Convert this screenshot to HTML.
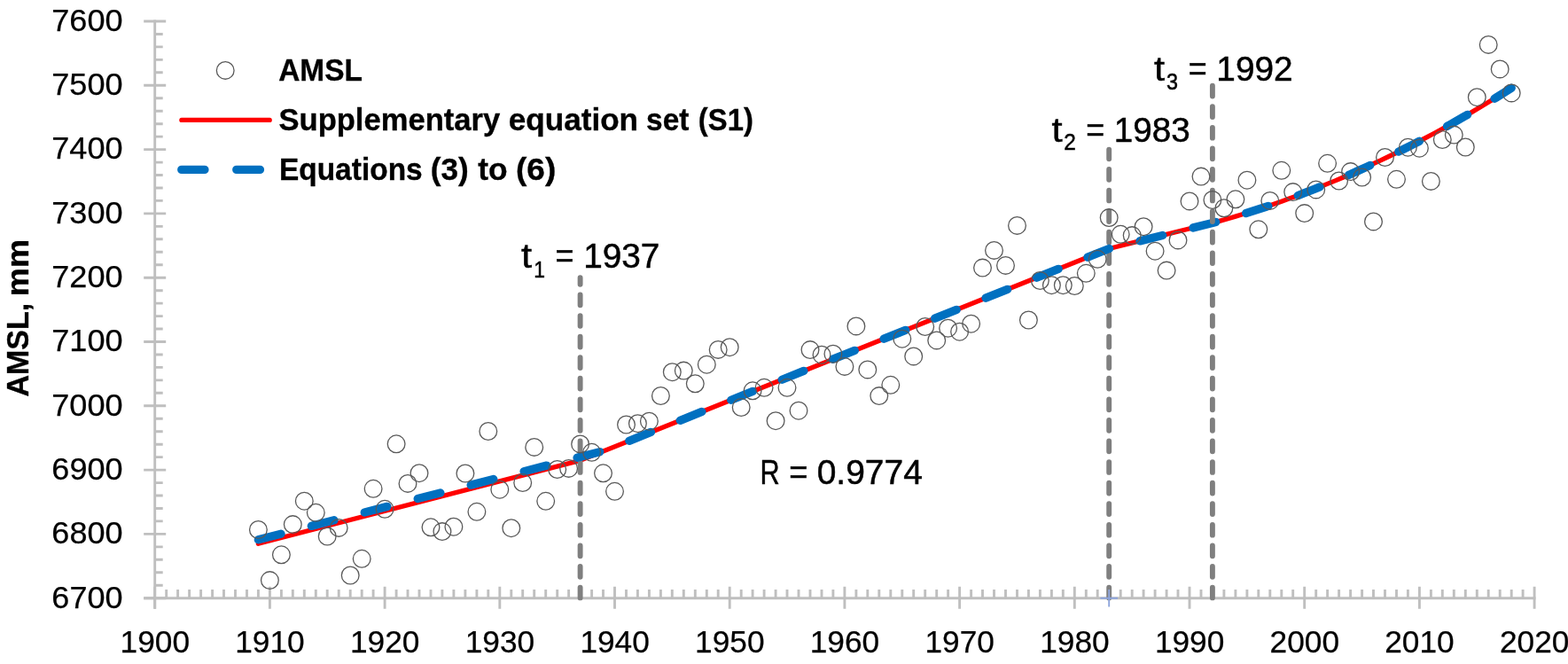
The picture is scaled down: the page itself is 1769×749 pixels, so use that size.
<!DOCTYPE html>
<html lang="en">
<head>
<meta charset="utf-8">
<title>AMSL chart</title>
<style>
html,body{margin:0;padding:0;background:#fff;}
body{width:1769px;height:749px;overflow:hidden;}
svg{display:block;}
text{font-family:"Liberation Sans", sans-serif;fill:#000;}
.ax{font-size:35.5px;stroke:#000;stroke-width:0.25px;}
.an{font-size:39.2px;stroke:#000;stroke-width:0.5px;}
.sub{font-size:25.9px;stroke:#000;stroke-width:0.5px;}
.b{font-weight:bold;font-size:35.8px;stroke:#000;stroke-width:0.35px;}
</style>
</head>
<body>
<svg width="1769" height="749" viewBox="0 0 1769 749">
<rect x="0" y="0" width="1769" height="749" fill="#ffffff"/>

<g stroke="#bfbfbf" stroke-width="2.9" fill="none" stroke-linecap="butt">
<path d="M174.7 22.6V686.7"/>
<path d="M162.2 674.7H1732.5"/>
<path d="M162.2 674.7H187.2M174.7 660.2H183.7M174.7 645.8H183.7M174.7 631.3H183.7M174.7 616.9H183.7M162.2 602.4H187.2M174.7 587.9H183.7M174.7 573.5H183.7M174.7 559.0H183.7M174.7 544.6H183.7M162.2 530.1H187.2M174.7 515.6H183.7M174.7 501.2H183.7M174.7 486.7H183.7M174.7 472.3H183.7M162.2 457.8H187.2M174.7 443.3H183.7M174.7 428.9H183.7M174.7 414.4H183.7M174.7 400.0H183.7M162.2 385.5H187.2M174.7 371.0H183.7M174.7 356.6H183.7M174.7 342.1H183.7M174.7 327.7H183.7M162.2 313.2H187.2M174.7 298.7H183.7M174.7 284.3H183.7M174.7 269.8H183.7M174.7 255.4H183.7M162.2 240.9H187.2M174.7 226.4H183.7M174.7 212.0H183.7M174.7 197.5H183.7M174.7 183.1H183.7M162.2 168.6H187.2M174.7 154.1H183.7M174.7 139.7H183.7M174.7 125.2H183.7M174.7 110.8H183.7M162.2 96.3H187.2M174.7 81.8H183.7M174.7 67.4H183.7M174.7 52.9H183.7M174.7 38.5H183.7M162.2 24.0H187.2"/>
<path d="M174.7 661.7V686.8M187.7 665.0V674.7M200.6 665.0V674.7M213.6 665.0V674.7M226.6 665.0V674.7M239.6 665.0V674.7M252.5 665.0V674.7M265.5 665.0V674.7M278.5 665.0V674.7M291.4 665.0V674.7M304.4 661.7V686.8M317.4 665.0V674.7M330.3 665.0V674.7M343.3 665.0V674.7M356.3 665.0V674.7M369.2 665.0V674.7M382.2 665.0V674.7M395.2 665.0V674.7M408.2 665.0V674.7M421.1 665.0V674.7M434.1 661.7V686.8M447.1 665.0V674.7M460.0 665.0V674.7M473.0 665.0V674.7M486.0 665.0V674.7M498.9 665.0V674.7M511.9 665.0V674.7M524.9 665.0V674.7M537.9 665.0V674.7M550.8 665.0V674.7M563.8 661.7V686.8M576.8 665.0V674.7M589.7 665.0V674.7M602.7 665.0V674.7M615.7 665.0V674.7M628.7 665.0V674.7M641.6 665.0V674.7M654.6 665.0V674.7M667.6 665.0V674.7M680.5 665.0V674.7M693.5 661.7V686.8M706.5 665.0V674.7M719.4 665.0V674.7M732.4 665.0V674.7M745.4 665.0V674.7M758.3 665.0V674.7M771.3 665.0V674.7M784.3 665.0V674.7M797.3 665.0V674.7M810.2 665.0V674.7M823.2 661.7V686.8M836.2 665.0V674.7M849.1 665.0V674.7M862.1 665.0V674.7M875.1 665.0V674.7M888.0 665.0V674.7M901.0 665.0V674.7M914.0 665.0V674.7M927.0 665.0V674.7M939.9 665.0V674.7M952.9 661.7V686.8M965.9 665.0V674.7M978.8 665.0V674.7M991.8 665.0V674.7M1004.8 665.0V674.7M1017.8 665.0V674.7M1030.7 665.0V674.7M1043.7 665.0V674.7M1056.7 665.0V674.7M1069.6 665.0V674.7M1082.6 661.7V686.8M1095.6 665.0V674.7M1108.5 665.0V674.7M1121.5 665.0V674.7M1134.5 665.0V674.7M1147.5 665.0V674.7M1160.4 665.0V674.7M1173.4 665.0V674.7M1186.4 665.0V674.7M1199.3 665.0V674.7M1212.3 661.7V686.8M1225.3 665.0V674.7M1238.2 665.0V674.7M1251.2 665.0V674.7M1264.2 665.0V674.7M1277.2 665.0V674.7M1290.1 665.0V674.7M1303.1 665.0V674.7M1316.1 665.0V674.7M1329.0 665.0V674.7M1342.0 661.7V686.8M1355.0 665.0V674.7M1367.9 665.0V674.7M1380.9 665.0V674.7M1393.9 665.0V674.7M1406.9 665.0V674.7M1419.8 665.0V674.7M1432.8 665.0V674.7M1445.8 665.0V674.7M1458.7 665.0V674.7M1471.7 661.7V686.8M1484.7 665.0V674.7M1497.6 665.0V674.7M1510.6 665.0V674.7M1523.6 665.0V674.7M1536.6 665.0V674.7M1549.5 665.0V674.7M1562.5 665.0V674.7M1575.5 665.0V674.7M1588.4 665.0V674.7M1601.4 661.7V686.8M1614.4 665.0V674.7M1627.3 665.0V674.7M1640.3 665.0V674.7M1653.3 665.0V674.7M1666.3 665.0V674.7M1679.2 665.0V674.7M1692.2 665.0V674.7M1705.2 665.0V674.7M1718.1 665.0V674.7M1731.1 661.7V686.8"/>
</g>
<text class="ax" x="58.35" y="685.55" textLength="80.23" lengthAdjust="spacingAndGlyphs">6700</text>
<text class="ax" x="58.35" y="613.25" textLength="80.23" lengthAdjust="spacingAndGlyphs">6800</text>
<text class="ax" x="58.35" y="540.95" textLength="80.23" lengthAdjust="spacingAndGlyphs">6900</text>
<text class="ax" x="58.25" y="468.65" textLength="80.33" lengthAdjust="spacingAndGlyphs">7000</text>
<text class="ax" x="58.25" y="396.35" textLength="80.33" lengthAdjust="spacingAndGlyphs">7100</text>
<text class="ax" x="58.25" y="324.05" textLength="80.33" lengthAdjust="spacingAndGlyphs">7200</text>
<text class="ax" x="58.25" y="251.75" textLength="80.33" lengthAdjust="spacingAndGlyphs">7300</text>
<text class="ax" x="58.25" y="179.45" textLength="80.33" lengthAdjust="spacingAndGlyphs">7400</text>
<text class="ax" x="58.25" y="107.15" textLength="80.33" lengthAdjust="spacingAndGlyphs">7500</text>
<text class="ax" x="58.25" y="34.85" textLength="80.33" lengthAdjust="spacingAndGlyphs">7600</text>
<text class="ax" x="135.58" y="736.40" textLength="78.44" lengthAdjust="spacingAndGlyphs">1900</text>
<text class="ax" x="265.28" y="736.40" textLength="78.44" lengthAdjust="spacingAndGlyphs">1910</text>
<text class="ax" x="394.98" y="736.40" textLength="78.44" lengthAdjust="spacingAndGlyphs">1920</text>
<text class="ax" x="524.68" y="736.40" textLength="78.44" lengthAdjust="spacingAndGlyphs">1930</text>
<text class="ax" x="654.38" y="736.40" textLength="78.44" lengthAdjust="spacingAndGlyphs">1940</text>
<text class="ax" x="784.08" y="736.40" textLength="78.44" lengthAdjust="spacingAndGlyphs">1950</text>
<text class="ax" x="913.78" y="736.40" textLength="78.44" lengthAdjust="spacingAndGlyphs">1960</text>
<text class="ax" x="1043.48" y="736.40" textLength="78.44" lengthAdjust="spacingAndGlyphs">1970</text>
<text class="ax" x="1173.18" y="736.40" textLength="78.44" lengthAdjust="spacingAndGlyphs">1980</text>
<text class="ax" x="1302.88" y="736.40" textLength="78.44" lengthAdjust="spacingAndGlyphs">1990</text>
<text class="ax" x="1432.58" y="736.40" textLength="78.43" lengthAdjust="spacingAndGlyphs">2000</text>
<text class="ax" x="1562.28" y="736.40" textLength="78.43" lengthAdjust="spacingAndGlyphs">2010</text>
<text class="ax" x="1691.98" y="736.40" textLength="78.43" lengthAdjust="spacingAndGlyphs">2020</text>
<g transform="translate(32.2 0) rotate(-90)">
<text class="b" x="-447.57" y="0.00" textLength="105.72" lengthAdjust="spacingAndGlyphs">AMSL,</text>
<text class="b" x="-334.28" y="0.00" textLength="64.30" lengthAdjust="spacingAndGlyphs">mm</text>
</g>
<path d="M291.4 613.3L654.6 519.4L1251.2 280.5L1367.9 251.5L1376.6 249.1 L1385.2 246.7 L1393.9 244.1 L1402.5 241.5 L1411.2 238.8 L1419.8 236.0 L1428.5 233.2 L1437.1 230.3 L1445.8 227.2 L1454.4 224.1 L1463.1 221.0 L1471.7 217.7 L1480.3 214.4 L1489.0 210.9 L1497.6 207.4 L1506.3 203.9 L1514.9 200.2 L1523.6 196.5 L1532.2 192.6 L1540.9 188.7 L1549.5 184.7 L1558.2 180.7 L1566.8 176.5 L1575.5 172.3 L1584.1 168.0 L1592.8 163.6 L1601.4 159.2 L1610.0 154.6 L1618.7 150.0 L1627.3 145.3 L1636.0 140.5 L1644.6 135.6 L1653.3 130.7 L1661.9 125.6 L1670.6 120.5 L1679.2 115.3 L1687.9 110.1 L1696.5 104.7 L1705.2 99.3" fill="none" stroke="#ff0000" stroke-width="5.3" stroke-linejoin="round" stroke-linecap="round"/>
<path d="M654.6 674.4V313.2" fill="none" stroke="#7f7f7f" stroke-width="5.9" stroke-linecap="round" stroke-dasharray="11.78 11.8"/>
<path d="M1251.2 674.4V168.6" fill="none" stroke="#7f7f7f" stroke-width="5.9" stroke-linecap="round" stroke-dasharray="11.78 11.8"/>
<path d="M291.4 608.8L654.6 515.4L683.1 508.0L1251.2 280.5L1367.9 251.5L1376.6 249.1 L1385.2 246.7 L1393.9 244.1 L1402.5 241.5 L1411.2 238.8 L1419.8 236.0 L1428.5 233.2 L1437.1 230.3 L1445.8 227.2 L1454.4 224.1 L1463.1 221.0 L1471.7 217.7 L1480.3 214.4 L1489.0 210.9 L1497.6 207.4 L1506.3 203.9 L1514.9 200.2 L1523.6 196.5 L1532.2 192.6 L1540.9 188.7 L1549.5 184.7 L1558.2 180.7 L1566.8 176.5 L1575.5 172.3 L1584.1 168.0 L1592.8 163.6 L1601.4 159.2 L1610.0 154.6 L1618.7 150.0 L1627.3 145.3 L1636.0 140.5 L1644.6 135.6 L1653.3 130.7 L1661.9 125.6 L1670.6 120.5 L1679.2 115.3 L1687.9 110.1 L1696.5 104.7 L1705.2 99.3" fill="none" stroke="#0070c0" stroke-width="9.4" stroke-linejoin="round" stroke-linecap="round" stroke-dasharray="26.4 35.5"/>
<path d="M1367.9 674.4V96.3" fill="none" stroke="#7f7f7f" stroke-width="5.9" stroke-linecap="round" stroke-dasharray="11.78 11.8"/>
<path d="M1241.4 674.7H1261.0M1251.2 665.0V684.4" fill="none" stroke="#8ea5dc" stroke-width="1.9"/>
<g fill="none" stroke="#595959" stroke-width="1.3">
<circle cx="291.4" cy="597.5" r="9.85"/>
<circle cx="304.4" cy="654.6" r="9.85"/>
<circle cx="317.4" cy="625.8" r="9.85"/>
<circle cx="330.3" cy="591.6" r="9.85"/>
<circle cx="343.3" cy="565.2" r="9.85"/>
<circle cx="356.3" cy="578.3" r="9.85"/>
<circle cx="369.2" cy="605.0" r="9.85"/>
<circle cx="382.2" cy="595.4" r="9.85"/>
<circle cx="395.2" cy="649.0" r="9.85"/>
<circle cx="408.2" cy="630.3" r="9.85"/>
<circle cx="421.1" cy="551.3" r="9.85"/>
<circle cx="434.1" cy="574.3" r="9.85"/>
<circle cx="447.1" cy="500.8" r="9.85"/>
<circle cx="460.0" cy="545.4" r="9.85"/>
<circle cx="473.0" cy="533.7" r="9.85"/>
<circle cx="486.0" cy="594.8" r="9.85"/>
<circle cx="498.9" cy="599.6" r="9.85"/>
<circle cx="511.9" cy="594.2" r="9.85"/>
<circle cx="524.9" cy="534.0" r="9.85"/>
<circle cx="537.9" cy="577.3" r="9.85"/>
<circle cx="550.8" cy="486.5" r="9.85"/>
<circle cx="563.8" cy="552.2" r="9.85"/>
<circle cx="576.8" cy="595.7" r="9.85"/>
<circle cx="589.7" cy="544.5" r="9.85"/>
<circle cx="602.7" cy="504.4" r="9.85"/>
<circle cx="615.7" cy="565.3" r="9.85"/>
<circle cx="628.7" cy="529.5" r="9.85"/>
<circle cx="641.6" cy="528.4" r="9.85"/>
<circle cx="654.6" cy="500.9" r="9.85"/>
<circle cx="667.6" cy="510.3" r="9.85"/>
<circle cx="680.5" cy="533.8" r="9.85"/>
<circle cx="693.5" cy="554.3" r="9.85"/>
<circle cx="706.5" cy="479.0" r="9.85"/>
<circle cx="719.4" cy="477.7" r="9.85"/>
<circle cx="732.4" cy="475.2" r="9.85"/>
<circle cx="745.4" cy="446.5" r="9.85"/>
<circle cx="758.3" cy="419.7" r="9.85"/>
<circle cx="771.3" cy="418.1" r="9.85"/>
<circle cx="784.3" cy="432.8" r="9.85"/>
<circle cx="797.3" cy="411.2" r="9.85"/>
<circle cx="810.2" cy="394.4" r="9.85"/>
<circle cx="823.2" cy="391.7" r="9.85"/>
<circle cx="836.2" cy="459.5" r="9.85"/>
<circle cx="849.1" cy="440.8" r="9.85"/>
<circle cx="862.1" cy="437.3" r="9.85"/>
<circle cx="875.1" cy="474.7" r="9.85"/>
<circle cx="888.0" cy="437.3" r="9.85"/>
<circle cx="901.0" cy="463.2" r="9.85"/>
<circle cx="914.0" cy="394.6" r="9.85"/>
<circle cx="927.0" cy="400.2" r="9.85"/>
<circle cx="939.9" cy="399.2" r="9.85"/>
<circle cx="952.9" cy="413.4" r="9.85"/>
<circle cx="965.9" cy="367.9" r="9.85"/>
<circle cx="978.8" cy="416.9" r="9.85"/>
<circle cx="991.8" cy="446.6" r="9.85"/>
<circle cx="1004.8" cy="434.3" r="9.85"/>
<circle cx="1017.8" cy="382.2" r="9.85"/>
<circle cx="1030.7" cy="401.9" r="9.85"/>
<circle cx="1043.7" cy="368.5" r="9.85"/>
<circle cx="1056.7" cy="383.9" r="9.85"/>
<circle cx="1069.6" cy="370.2" r="9.85"/>
<circle cx="1082.6" cy="374.2" r="9.85"/>
<circle cx="1095.6" cy="365.2" r="9.85"/>
<circle cx="1108.5" cy="302.1" r="9.85"/>
<circle cx="1121.5" cy="282.4" r="9.85"/>
<circle cx="1134.5" cy="299.4" r="9.85"/>
<circle cx="1147.5" cy="254.4" r="9.85"/>
<circle cx="1160.4" cy="361.0" r="9.85"/>
<circle cx="1173.4" cy="316.5" r="9.85"/>
<circle cx="1186.4" cy="321.7" r="9.85"/>
<circle cx="1199.3" cy="321.7" r="9.85"/>
<circle cx="1212.3" cy="322.5" r="9.85"/>
<circle cx="1225.3" cy="308.3" r="9.85"/>
<circle cx="1238.2" cy="292.3" r="9.85"/>
<circle cx="1251.2" cy="245.6" r="9.85"/>
<circle cx="1264.2" cy="264.3" r="9.85"/>
<circle cx="1277.2" cy="265.6" r="9.85"/>
<circle cx="1290.1" cy="255.7" r="9.85"/>
<circle cx="1303.1" cy="283.2" r="9.85"/>
<circle cx="1316.1" cy="305.1" r="9.85"/>
<circle cx="1329.0" cy="270.9" r="9.85"/>
<circle cx="1342.0" cy="226.9" r="9.85"/>
<circle cx="1355.0" cy="199.1" r="9.85"/>
<circle cx="1367.9" cy="225.5" r="9.85"/>
<circle cx="1380.9" cy="234.8" r="9.85"/>
<circle cx="1393.9" cy="224.8" r="9.85"/>
<circle cx="1406.9" cy="203.2" r="9.85"/>
<circle cx="1419.8" cy="258.8" r="9.85"/>
<circle cx="1432.8" cy="226.4" r="9.85"/>
<circle cx="1445.8" cy="192.3" r="9.85"/>
<circle cx="1458.7" cy="216.6" r="9.85"/>
<circle cx="1471.7" cy="240.6" r="9.85"/>
<circle cx="1484.7" cy="213.9" r="9.85"/>
<circle cx="1497.6" cy="184.3" r="9.85"/>
<circle cx="1510.6" cy="204.0" r="9.85"/>
<circle cx="1523.6" cy="193.6" r="9.85"/>
<circle cx="1536.6" cy="200.0" r="9.85"/>
<circle cx="1549.5" cy="249.9" r="9.85"/>
<circle cx="1562.5" cy="177.5" r="9.85"/>
<circle cx="1575.5" cy="202.3" r="9.85"/>
<circle cx="1588.4" cy="166.2" r="9.85"/>
<circle cx="1601.4" cy="167.2" r="9.85"/>
<circle cx="1614.4" cy="204.4" r="9.85"/>
<circle cx="1627.3" cy="157.5" r="9.85"/>
<circle cx="1640.3" cy="152.1" r="9.85"/>
<circle cx="1653.3" cy="166.0" r="9.85"/>
<circle cx="1666.3" cy="109.7" r="9.85"/>
<circle cx="1679.2" cy="50.4" r="9.85"/>
<circle cx="1692.2" cy="77.9" r="9.85"/>
<circle cx="1705.2" cy="104.9" r="9.85"/>
</g>
<circle cx="254.2" cy="79.4" r="9.85" fill="none" stroke="#595959" stroke-width="1.3"/>
<path d="M204.9 135.4H304.2" fill="none" stroke="#ff0000" stroke-width="5.3" stroke-linecap="round"/>
<path d="M204.8 191.4H230.9M266.8 191.4H293.4" fill="none" stroke="#0070c0" stroke-width="9.4" stroke-linecap="round"/>
<text class="b" x="314.14" y="90.85" textLength="94.81" lengthAdjust="spacingAndGlyphs">AMSL</text>
<text class="b" x="314.44" y="146.90" textLength="249.82" lengthAdjust="spacingAndGlyphs">Supplementary</text>
<text class="b" x="573.67" y="146.90" textLength="146.42" lengthAdjust="spacingAndGlyphs">equation</text>
<text class="b" x="729.11" y="146.90" textLength="48.25" lengthAdjust="spacingAndGlyphs">set</text>
<text class="b" x="787.83" y="146.90" textLength="61.99" lengthAdjust="spacingAndGlyphs">(S1)</text>
<text class="b" x="314.92" y="202.60" textLength="161.79" lengthAdjust="spacingAndGlyphs">Equations</text>
<text class="b" x="485.82" y="202.60" textLength="42.95" lengthAdjust="spacingAndGlyphs">(3)</text>
<text class="b" x="539.13" y="202.60" textLength="33.37" lengthAdjust="spacingAndGlyphs">to</text>
<text class="b" x="582.02" y="202.60" textLength="45.24" lengthAdjust="spacingAndGlyphs">(6)</text>
<text class="an" x="587.90" y="302.20" textLength="12.09" lengthAdjust="spacingAndGlyphs">t</text>
<text class="sub" x="602.23" y="312.90" textLength="12.73" lengthAdjust="spacingAndGlyphs">1</text>
<text class="an" x="626.46" y="302.20" textLength="20.95" lengthAdjust="spacingAndGlyphs">=</text>
<text class="an" x="658.14" y="302.20" textLength="86.23" lengthAdjust="spacingAndGlyphs">1937</text>
<text class="an" x="1186.60" y="160.00" textLength="12.09" lengthAdjust="spacingAndGlyphs">t</text>
<text class="sub" x="1200.23" y="169.40" textLength="13.57" lengthAdjust="spacingAndGlyphs">2</text>
<text class="an" x="1225.16" y="160.00" textLength="20.95" lengthAdjust="spacingAndGlyphs">=</text>
<text class="an" x="1256.85" y="160.00" textLength="85.92" lengthAdjust="spacingAndGlyphs">1983</text>
<text class="an" x="1302.10" y="90.70" textLength="12.09" lengthAdjust="spacingAndGlyphs">t</text>
<text class="sub" x="1316.07" y="100.90" textLength="13.00" lengthAdjust="spacingAndGlyphs">3</text>
<text class="an" x="1340.66" y="90.70" textLength="20.95" lengthAdjust="spacingAndGlyphs">=</text>
<text class="an" x="1372.34" y="90.70" textLength="86.23" lengthAdjust="spacingAndGlyphs">1992</text>
<text class="an" x="857.52" y="546.10" textLength="22.18" lengthAdjust="spacingAndGlyphs">R</text>
<text class="an" x="890.14" y="546.10" textLength="21.19" lengthAdjust="spacingAndGlyphs">=</text>
<text class="an" x="921.69" y="546.10" textLength="119.18" lengthAdjust="spacingAndGlyphs">0.9774</text>
</svg>
</body>
</html>
